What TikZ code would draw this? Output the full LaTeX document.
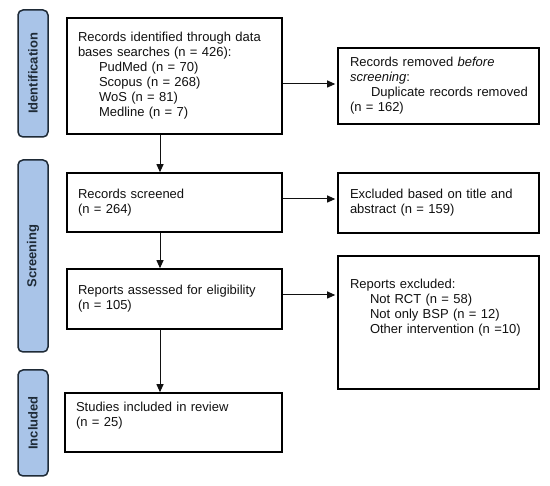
\documentclass[tikz,border=0pt]{standalone}
\usepackage{fontspec}
\setmainfont{Liberation Sans}
\usepackage{tikz}
\usetikzlibrary{arrows.meta,positioning,calc}
\usepackage{xcolor}
\definecolor{barblue}{HTML}{A9C4E8}
\definecolor{bardark}{HTML}{1E2A36}
\definecolor{inkgray}{HTML}{111111}

\begin{document}
\begin{tikzpicture}[
    x=1pt, y=-1pt,
    >=Triangle,
    phasebar/.style={
      draw=bardark, line width=1.5pt, rounded corners=5pt,
      fill=barblue, rotate=90,
      font=\fontsize{13}{15}\selectfont\bfseries, text=bardark,
      minimum width=#1, minimum height=30pt, inner sep=0pt,
    },
    flowbox/.style={
      draw=black, line width=1.6pt, fill=white,
      font=\fontsize{13}{15}\selectfont, text=inkgray,
      align=left, inner xsep=11pt, inner ysep=3pt,
      minimum height=#1,
      execute at begin node={\hyphenpenalty=10000},
    },
    arr/.style={-{Triangle[length=8pt,width=7pt]}, line width=1pt, inkgray},
  ]

  \useasboundingbox (0,0) rectangle (550,486);

  % =================== PHASE BARS ===================
  \node[phasebar=127pt] (pid)  at (33, 73.5) {Identification};
  \node[phasebar=192pt] (pscr) at (33, 256)  {Screening};
  \node[phasebar=106pt] (pinc) at (33, 423)  {Included};

  % =================== MAIN COLUMN ===================
  \node[flowbox=116pt, text width=193pt] (ident) at (174.5, 76)
    {Records identified through data\\
     bases searches (n = 426):\\
     \hspace*{21pt}PudMed (n = 70)\\
     \hspace*{21pt}Scopus (n = 268)\\
     \hspace*{21pt}WoS (n = 81)\\
     \hspace*{21pt}Medline (n = 7)};
  \node[flowbox=59pt, text width=193pt] (screened) at (174.5, 202.5)
    {Records screened\\ (n = 264)};
  \node[flowbox=60pt, text width=193pt] (assessed) at (174.5, 299)
    {Reports assessed for eligibility\\ (n = 105)};
  \node[flowbox=59pt, text width=195pt, text depth=31pt] (studies) at (173.5, 422.5)
    {Studies included in review\\ (n = 25)};

  % =================== SIDE COLUMN ===================
  \node[flowbox=76pt, text width=177pt, inner xsep=12pt] (removed) at (438.5, 86)
    {Records removed \textit{before}\\
     \textit{screening}:\\
     \mbox{\hspace*{21pt}Duplicate records removed}\\
     (n = 162)};
  \node[flowbox=60pt, text width=177pt, inner xsep=12pt] (excltitle) at (438.5, 203)
    {Excluded based on title and\\ abstract (n = 159)};
  \node[flowbox=133pt, text width=177pt, inner xsep=12pt, text depth=78pt] (exclreports) at (438.5, 322.5)
    {Reports excluded:\\
     \hspace*{20pt}Not RCT (n = 58)\\
     \hspace*{20pt}Not only BSP (n = 12)\\
     \hspace*{20pt}Other intervention (n =10)};

  % Arrows down the main column
  \draw[arr] ([xshift=-14.5pt]ident.south) -- ([xshift=-14.5pt]screened.north);
  \draw[arr] ([xshift=-14.5pt]screened.south) -- ([xshift=-14.5pt]assessed.north);
  \draw[arr] ([xshift=-14.5pt]assessed.south) -- ([xshift=-13.5pt]studies.north);

  % Arrows to the side column
  \draw[arr, shorten >=2pt] ([yshift=-8pt]ident.east) -- ([yshift=-8pt]ident.east -| removed.west);
  \draw[arr, shorten >=2pt] ([yshift=3.5pt]screened.east) -- ([yshift=3.5pt]screened.east -| excltitle.west);
  \draw[arr, shorten >=2pt] ([yshift=4pt]assessed.east) -- ([yshift=4pt]assessed.east -| exclreports.west);

\end{tikzpicture}
\end{document}
